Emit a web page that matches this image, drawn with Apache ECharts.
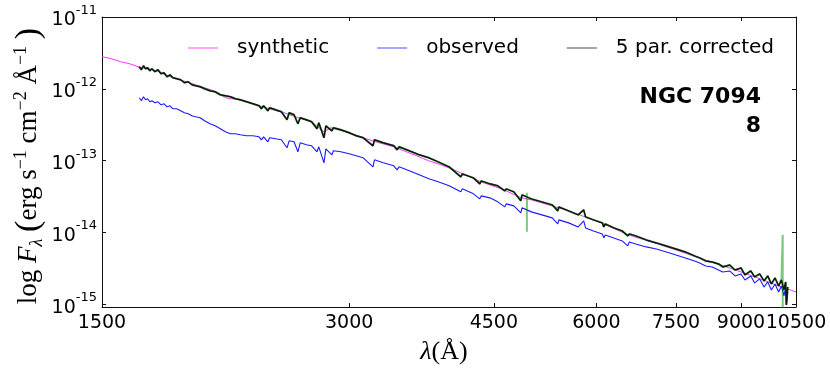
<!DOCTYPE html>
<html><head><meta charset="utf-8">
<script src="https://cdn.jsdelivr.net/npm/echarts@6/dist/echarts.min.js"></script>
<style>html,body{margin:0;padding:0;background:#fff}#c{width:830px;height:374px}</style>
</head><body><div id="c"></div>
<script>
// ---- data (wavelength in Å, flux in units of 1e-13 erg s^-1 cm^-2 Å^-1) ----
const FLUX_UNIT = 1e-13;
const xTickValues = [1500, 3000, 4500, 6000, 7500, 9000, 10500];
const yTickExponents = [-15, -14, -13, -12, -11];
const xRange = [1500, 10500];
const yRange = [9.16e-16, 1e-11];
const seriesNames = ['synthetic', 'observed', '5 par. corrected'];

const synthWave = [1500,1540,1580,1620,1660,1700,1750,1800,1850,1900,1950,2000,2050,2100,2140,2180,2250,2330,2400,2500,2600,2700,2795,2850,3000,3200,3400,3650,3750,3850,4000,4340,4600,4861,5000,5500,6000,6563,7000,7500,8000,8500,9000,9500,10000,10500];
const synthFlux = [27.98,26.24,23.83,22.35,20.30,19.04,17.85,15.20,13.81,12.54,11.39,10.34,9.393,8.002,7.267,7.267,6.601,5.806,5.273,4.638,3.950,3.474,2.520,2.866,2.441,1.888,1.558,1.130,0.9936,0.9025,0.7687,0.5066,0.4046,0.3031,0.2843,0.2062,0.1449,0.09242,0.07384,0.05712,0.04419,0.03530,0.02820,0.02253,0.01799,0.01484];

const specWave = [1665,1675,1685,1695,1705,1715,1725,1740,1755,1770,1785,1800,1815,1830,1850,1870,1890,1910,1930,1950,1975,2000,2030,2060,2090,2120,2150,2180,2210,2250,2290,2330,2345,2360,2388,2400,2440,2480,2520,2535,2570,2598,2615,2660,2700,2741,2755,2795,2810,2858,2870,2930,3000,3060,3120,3207,3220,3300,3400,3430,3450,3550,3650,3750,3850,3970,4102,4120,4250,4326,4345,4450,4550,4641,4660,4760,4854,4870,4936,5000,5150,5300,5384,5400,5550,5700,5790,5820,5950,6100,6125,6150,6300,6450,6551,6580,6700,6900,7100,7300,7500,7700,7900,8016,8150,8300,8450,8550,8718,8850,9000,9100,9250,9350,9483,9600,9700,9800,9900,10000,10080,10150,10200,10220,10240,10260];

const obsFlux = [7.505,6.816,7.749,7.038,7.267,6.601,6.816,6.393,6.601,5.995,6.191,5.623,5.806,5.273,5.273,4.945,4.638,4.491,4.212,4.079,3.950,3.587,3.258,3.055,2.775,2.520,2.363,2.363,2.289,2.217,2.217,2.147,1.950,2.147,1.829,2.079,2.013,1.950,1.509,1.888,1.829,1.327,1.771,1.661,1.609,1.327,1.558,0.9319,1.461,1.205,1.370,1.327,1.245,1.167,1.095,0.8197,1.026,0.9319,0.8463,0.7444,0.8197,0.7209,0.6341,0.5577,0.5066,0.4455,0.3675,0.4046,0.3446,0.2935,0.3232,0.3031,0.2666,0.2271,0.2501,0.2345,0.1873,0.2200,0.2062,0.1934,0.1756,0.1595,0.1316,0.1496,0.1359,0.1195,0.1449,0.1157,0.1051,0.09544,0.08395,0.09242,0.08395,0.07624,0.06494,0.07384,0.06925,0.06290,0.05898,0.05357,0.04866,0.04419,0.04013,0.03764,0.03418,0.03311,0.03007,0.02820,0.02912,0.02480,0.02645,0.02181,0.02480,0.01981,0.02253,0.01742,0.02046,0.01582,0.01918,0.01484,0.01799,0.01305,0.01687,0.01010,0.01148,0.01484];

const corrFlux = [20.30,18.43,20.96,19.04,19.66,17.85,19.04,17.29,18.43,16.21,16.74,14.72,15.70,14.26,13.81,13.37,12.14,12.54,11.39,11.03,10.68,10.02,9.393,9.098,8.262,8.002,7.749,7.267,7.038,6.601,6.191,5.806,5.273,5.806,4.945,5.445,5.106,4.789,3.704,4.638,4.349,3.258,3.950,3.704,3.474,2.775,3.364,2.079,3.055,2.602,2.866,2.687,2.441,2.217,2.079,1.609,1.950,1.771,1.609,1.415,1.558,1.370,1.205,1.095,0.9623,0.8197,0.5947,0.6548,0.5759,0.4751,0.5230,0.4751,0.4455,0.3794,0.4046,0.3675,0.2753,0.3337,0.3130,0.2935,0.2666,0.2422,0.1997,0.2271,0.1997,0.1756,0.2062,0.1647,0.1496,0.1359,0.1195,0.1316,0.1157,0.1051,0.08950,0.09544,0.08950,0.07873,0.07151,0.06494,0.05898,0.05357,0.04712,0.04419,0.04013,0.03887,0.03645,0.03311,0.03530,0.03007,0.03206,0.02561,0.02912,0.02402,0.02645,0.02112,0.02480,0.01918,0.02326,0.01799,0.02181,0.01582,0.02046,0.00978,0.01305,0.01742];

// spikes only present in the green (second corrected) trace
const spikeWave = [4937, 4937.3, 4937.6, 10116, 10116.3, 10116.6];
const spikeFlux = [0.356, 0.102, 0.310, 0.0925, 0.0085, 0.0190];

// ---- build ----
const L = Math.log10;
function pts(w, f) { return w.map((x, i) => [L(x), L(f[i] * FLUX_UNIT)]); }
const greenPts = pts(specWave, corrFlux).concat(pts(spikeWave, spikeFlux)).sort((a, b) => a[0] - b[0]);

const chart = echarts.init(document.getElementById('c'), null, { renderer: 'canvas' });
const xTicks = xTickValues.map(L);
const yTicks = yTickExponents.slice();
const axisCommonX = {
  type: 'value', min: L(xRange[0]), max: L(xRange[1]),
  axisLine: { show: true, lineStyle: { color: '#111', width: 1 } },
  axisTick: { show: true, inside: true, length: 4, customValues: xTicks, lineStyle: { color: '#111' } },
  splitLine: { show: false }
};
const axisCommonY = {
  type: 'value', min: L(yRange[0]), max: L(yRange[1]),
  axisLine: { show: true, lineStyle: { color: '#111', width: 1 } },
  axisTick: { show: true, inside: true, length: 4, customValues: yTicks, lineStyle: { color: '#111' } },
  splitLine: { show: false }
};

chart.setOption({
  animation: false,
  backgroundColor: '#fff',
  grid: { left: 102, right: 34, top: 17, bottom: 67, containLabel: false },
  xAxis: [
    Object.assign({}, axisCommonX, { position: 'bottom',
      axisLabel: { show: true, customValues: xTicks, margin: 7, fontSize: 19, fontFamily: 'DejaVu Sans', color: '#000',
        formatter: v => String(Math.round(Math.pow(10, v))) } }),
    Object.assign({}, axisCommonX, { position: 'top', axisLabel: { show: false } })
  ],
  yAxis: [
    Object.assign({}, axisCommonY, { position: 'left',
      axisLabel: { show: true, customValues: yTicks, margin: 5, color: '#000',
        formatter: v => '{b|10}{s|' + Math.round(v) + '}',
        rich: {
          b: { fontSize: 19, fontFamily: 'DejaVu Sans', color: '#000', lineHeight: 26, verticalAlign: 'bottom' },
          s: { fontSize: 13, fontFamily: 'DejaVu Sans', color: '#000', lineHeight: 14, verticalAlign: 'top' }
        } } }),
    Object.assign({}, axisCommonY, { position: 'right', axisLabel: { show: false } })
  ],
  legend: {
    top: 33, left: 183, icon: 'rect', itemWidth: 30, itemHeight: 1.5, itemGap: 48,
    textStyle: { fontSize: 20, fontFamily: 'DejaVu Sans', color: '#000', padding: [0, 0, 0, 14] },
    data: [
      { name: seriesNames[0], itemStyle: { color: '#ff88ff' } },
      { name: seriesNames[1], itemStyle: { color: '#8888ff' } },
      { name: seriesNames[2], itemStyle: { color: '#888888' } }
    ]
  },
  series: [
    { name: seriesNames[0], type: 'line', data: pts(synthWave, synthFlux), symbol: 'none', lineStyle: { color: '#ff33ff', width: 1 }, itemStyle: { color: '#ff88ff' }, z: 2 },
    { name: seriesNames[1], type: 'line', data: pts(specWave, obsFlux), symbol: 'none', lineStyle: { color: '#1a1aff', width: 1.1 }, itemStyle: { color: '#8888ff' }, z: 3 },
    { name: 'alt', type: 'line', data: greenPts, symbol: 'none', lineStyle: { color: 'rgba(0,140,0,0.5)', width: 2 }, z: 4 },
    { name: seriesNames[2], type: 'line', data: pts(specWave, corrFlux), symbol: 'none', lineStyle: { color: '#0a1a0a', width: 1.5 }, itemStyle: { color: '#888888' }, z: 5 }
  ],
  graphic: [
    { type: 'text', x: 29, y: 166, rotation: Math.PI / 2, style: {
        text: '{n|log }{i|F}{sub|λ}{n| }{p|(}{n|erg s}{sup|−1}{n| cm}{sup|−2}{n| Å}{sup|−1}{n| }{p|)}',
        align: 'center', verticalAlign: 'middle',
        rich: {
          n: { fontSize: 27, fontFamily: 'Liberation Serif', fill: '#000', lineHeight: 34, verticalAlign: 'middle' },
          i: { fontSize: 27, fontFamily: 'Liberation Serif', fontStyle: 'italic', fill: '#000', lineHeight: 34, verticalAlign: 'middle' },
          sub: { fontSize: 18, fontFamily: 'Liberation Serif', fontStyle: 'italic', fill: '#000', lineHeight: 14, verticalAlign: 'bottom' },
          sup: { fontSize: 18, fontFamily: 'Liberation Serif', fill: '#000', lineHeight: 16, verticalAlign: 'top' },
          p: { fontSize: 34, fontFamily: 'Liberation Serif', fill: '#000', lineHeight: 34, verticalAlign: 'middle' }
        } } },
    { type: 'text', x: 444, y: 352, style: {
        text: '{i|λ}{n|(Å)}', align: 'center', verticalAlign: 'middle',
        rich: {
          i: { fontSize: 26, fontFamily: 'Liberation Serif', fontStyle: 'italic', fill: '#000' },
          n: { fontSize: 26, fontFamily: 'Liberation Serif', fill: '#000' }
        } } },
    { type: 'text', x: 761, y: 97, style: { text: 'NGC 7094', align: 'right', verticalAlign: 'middle', font: 'bold 22px "DejaVu Sans"', fill: '#000' } },
    { type: 'text', x: 761, y: 126, style: { text: '8', align: 'right', verticalAlign: 'middle', font: 'bold 22px "DejaVu Sans"', fill: '#000' } }
  ]
});
</script></body></html>
